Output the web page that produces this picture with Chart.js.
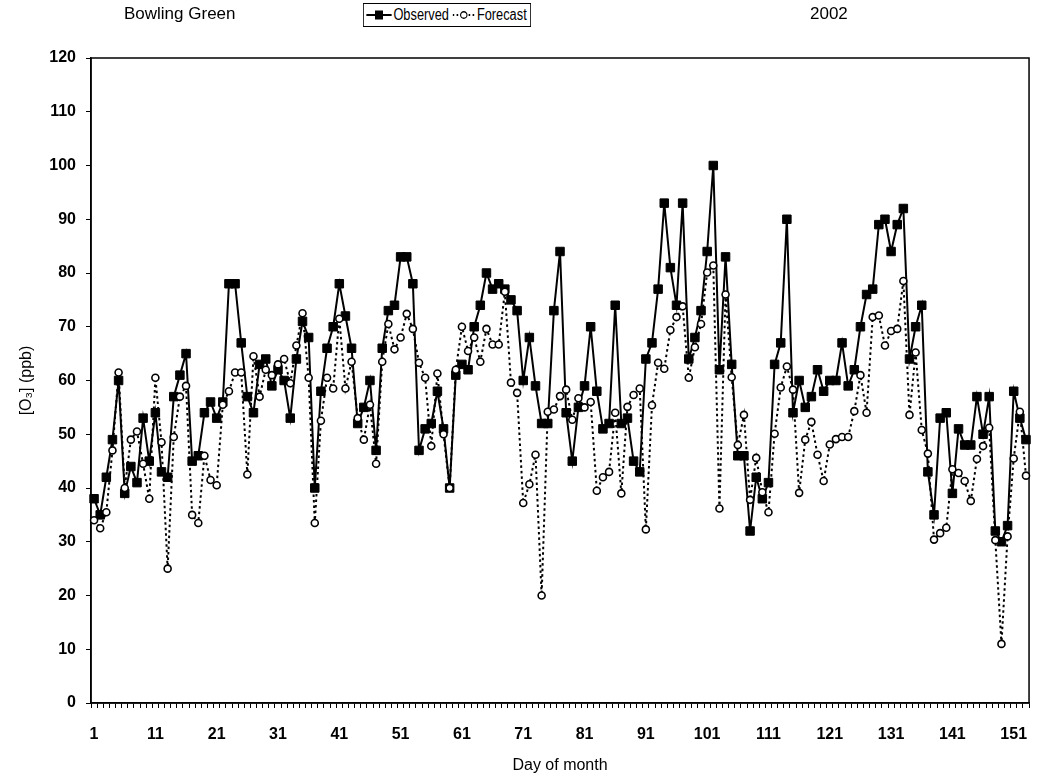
<!DOCTYPE html>
<html>
<head>
<meta charset="utf-8">
<script src="https://cdn.jsdelivr.net/npm/chart.js@4.4.1/dist/chart.umd.min.js"></script>
<style>
html,body{margin:0;padding:0;background:#fff;}
#wrap{position:relative;width:1043px;height:782px;overflow:hidden;}
#c{position:absolute;left:0;top:0;}
.hdr{position:absolute;font-family:"Liberation Sans",Arial,sans-serif;font-size:17px;color:#000;white-space:nowrap;line-height:20px;}
#legend{position:absolute;left:363px;top:3px;height:22px;border:1px solid #000;background:#fff;display:flex;align-items:center;padding:0 4px 0 3px;font-family:"Liberation Sans",Arial,sans-serif;font-size:16px;color:#000;white-space:nowrap;transform:scaleX(0.8);transform-origin:0 0;}
#legend svg{display:block;margin-right:2px;}
#legend span{margin-right:5px;}
</style>
</head>
<body>
<div id="wrap">
<canvas id="c" width="1043" height="782"></canvas>
<div class="hdr" id="site" style="left:124px;top:4px;">Bowling Green</div>
<div id="legend">
<svg width="32" height="14"><line x1="0" y1="7" x2="32" y2="7" stroke="#000" stroke-width="2"/><rect x="11" y="2.5" width="10" height="9" fill="#000"/></svg><span>Observed</span>
<svg width="28" height="14"><line x1="0" y1="7" x2="28" y2="7" stroke="#000" stroke-width="2" stroke-dasharray="2,3"/><ellipse cx="14" cy="7" rx="4" ry="3.3" fill="#fff" stroke="#000" stroke-width="1.4"/></svg><span style="margin-right:0">Forecast</span>
</div>
<div class="hdr" id="year" style="left:810px;top:4px;">2002</div>
</div>
<script>
const dayCount = 153;
const days = Array.from({length: dayCount}, (_, i) => String(i + 1));
const tickLabels = ["1","11","21","31","41","51","61","71","81","91","101","111","121","131","141","151"];
const yTicks = [0,10,20,30,40,50,60,70,80,90,100,110,120];

const observed = [
 38,35,42,49,60,39,44,41,53,45,
 54,43,42,57,61,65,45,46,54,56,
 53,56,78,78,67,57,54,63,64,59,
 62,60,53,64,71,68,40,58,66,70,
 78,72,66,52,55,60,47,66,73,74,
 83,83,78,47,51,52,58,51,40,61,
 63,62,70,74,80,77,78,77,75,73,
 60,68,59,52,52,73,84,54,45,55,
 59,70,58,51,52,74,52,53,45,43,
 64,67,77,93,81,74,93,64,68,73,
 84,100,62,83,63,46,46,32,42,38,
 41,63,67,90,54,60,55,57,62,58,
 60,60,67,59,62,70,76,77,89,90,
 84,89,92,64,70,74,43,35,53,54,
 39,51,48,48,57,50,57,32,30,33,
 58,53,49
];

const forecast = [
 34,32.5,35.5,47,61.5,40,49,50.5,44.5,38,
 60.5,48.5,25,49.5,57,59,35,33.5,46,41.5,
 40.5,55.5,58,61.5,61.5,42.5,64.5,57,62,61,
 63,64,59.5,66.5,72.5,60.5,33.5,52.5,60.5,58.5,
 71.5,58.5,63.5,53,49,55.5,44.5,63.5,70.5,65.8,
 68,72.4,69.6,63.3,60.5,47.8,61.3,50,40,62,
 70,65.5,68,63.5,69.6,66.7,66.7,76.5,59.6,57.7,
 37.2,40.7,46.2,20,54.2,54.6,57.1,58.3,52.7,56.7,
 55,56,39.5,42,43,54,39,55.1,57.3,58.5,
 32.3,55.4,63.3,62.2,69.4,71.8,73.8,60.5,66.2,70.5,
 80.1,81.4,36.2,76,60.6,48,53.6,37.8,45.6,39.2,
 35.5,50.1,58.7,62.6,58.3,39.1,49,52.3,46.2,41.3,
 48.1,49.1,49.5,49.5,54.3,61,54,71.8,72.1,66.5,
 69.2,69.6,78.5,53.6,65.2,50.8,46.4,30.4,31.6,32.6,
 43.5,42.8,41.3,37.6,45.4,47.8,51.2,30.3,11,31,
 45.5,54.2,42.3
];

const FONT = '"Liberation Sans", Arial, sans-serif';

const frame = {
  id: 'frame',
  beforeDatasetsDraw(chart) {
    const {ctx, chartArea: a} = chart;
    ctx.save();
    ctx.strokeStyle = '#000';
    ctx.lineWidth = 1.5;
    ctx.strokeRect(a.left, a.top, a.right - a.left, a.bottom - a.top);
    ctx.restore();
  }
};

new Chart(document.getElementById('c'), {
  type: 'line',
  data: {
    labels: days,
    datasets: [
      {
        label: 'Observed',
        data: observed,
        borderColor: '#000',
        backgroundColor: '#000',
        borderWidth: 2,
        pointStyle: 'rect',
        pointRadius: 6,
        pointBorderWidth: 1,
        pointBackgroundColor: '#000',
        pointBorderColor: '#000',
        tension: 0,
        order: 1
      },
      {
        label: 'Forecast',
        data: forecast,
        borderColor: '#000',
        backgroundColor: '#fff',
        borderWidth: 2,
        borderDash: [2.5, 3],
        pointStyle: 'circle',
        pointRadius: 3.5,
        pointBorderWidth: 1.6,
        pointBackgroundColor: '#fff',
        pointBorderColor: '#000',
        tension: 0,
        order: 0
      }
    ]
  },
  options: {
    responsive: false,
    animation: false,
    events: [],
    layout: { padding: { top: 58, right: 6, left: 0, bottom: 0 } },
    plugins: { legend: { display: false }, tooltip: { enabled: false } },
    scales: {
      x: {
        type: 'category',
        offset: true,
        afterFit(s) { s.height = 782 - 703; },
        grid: { display: true, drawOnChartArea: false, drawTicks: true, tickLength: 5, offset: true, color: '#000', lineWidth: 1 },
        border: { display: true, color: '#000', width: 1.5 },
        ticks: {
          autoSkip: false, maxRotation: 0, minRotation: 0, padding: 17,
          color: '#000', font: { family: FONT, size: 16, weight: 'bold' },
          callback(v, i) { const l = days[i]; return tickLabels.includes(l) ? l : ''; }
        },
        title: { display: true, text: 'Day of month', color: '#000', font: { family: FONT, size: 16 }, padding: { top: 0, bottom: 7 } }
      },
      y: {
        min: 0, max: 120,
        afterFit(s) { s.width = 91; },
        afterBuildTicks(s) { s.ticks = yTicks.map(v => ({ value: v })); },
        grid: { display: true, drawOnChartArea: false, drawTicks: true, tickLength: 5, color: '#000', lineWidth: 1 },
        border: { display: true, color: '#000', width: 1.5 },
        ticks: { padding: 10, color: '#000', font: { family: FONT, size: 16, weight: 'bold' } },
        title: { display: true, text: '[O₃] (ppb)', color: '#000', font: { family: FONT, size: 16 }, padding: { top: 17, bottom: 0 } }
      }
    }
  },
  plugins: [frame]
});
</script>
</body>
</html>
